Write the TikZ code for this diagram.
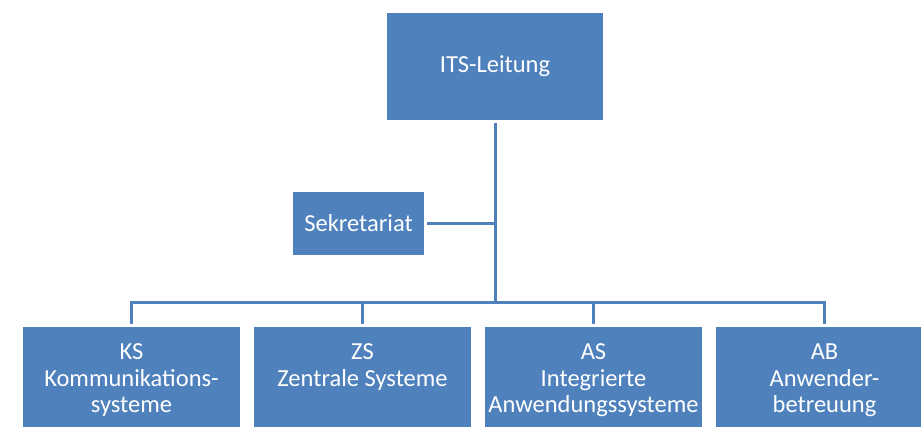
\documentclass[tikz,border=0pt]{standalone}
\usepackage{fontspec}
\setmainfont{Carlito}
\usetikzlibrary{positioning}
\definecolor{orgblue}{HTML}{4F81BD}

\begin{document}
\begin{tikzpicture}[
  x=1pt, y=1pt,
  font=\fontsize{24.5}{26.5}\selectfont,
  node distance=8pt,
  box/.style={fill=orgblue, text=white, align=center, inner sep=2pt,
    outer sep=3pt, minimum width=217pt, minimum height=107pt},
  link/.style={draw=orgblue, line width=3pt}
]
\useasboundingbox (0,0) rectangle (921,426);
\clip (0,0) rectangle (921,426);

\node[box, minimum width=216pt] (lead) at (495,359.5) {ITS-Leitung};
\node[box, minimum width=131pt, minimum height=63pt] (sek) at (358.5,202.5) {Sekretariat};

\node[box] (ks) at (131.5,45.5) {KS\\Kommunikations-\\systeme};
\node[box, right=of ks] (zs) {ZS\\Zentrale Systeme\\\phantom{y}};
\node[box, right=of zs] (as) {AS\\Integrierte\\Anwendungssysteme};
\node[box, right=of as] (ab) {AB\\Anwender-\\betreuung};

\coordinate (bus) at (0,123);
\draw[link] (lead.south) -- (lead.south |- bus);
\draw[link] (sek.east) -- (sek.east -| lead.south);
\draw[link] (ks.north) -- (ks.north |- bus) -- (ab.north |- bus) -- (ab.north);
\draw[link] (zs.north) -- (zs.north |- bus);
\draw[link] (as.north) -- (as.north |- bus);
\end{tikzpicture}
\end{document}
